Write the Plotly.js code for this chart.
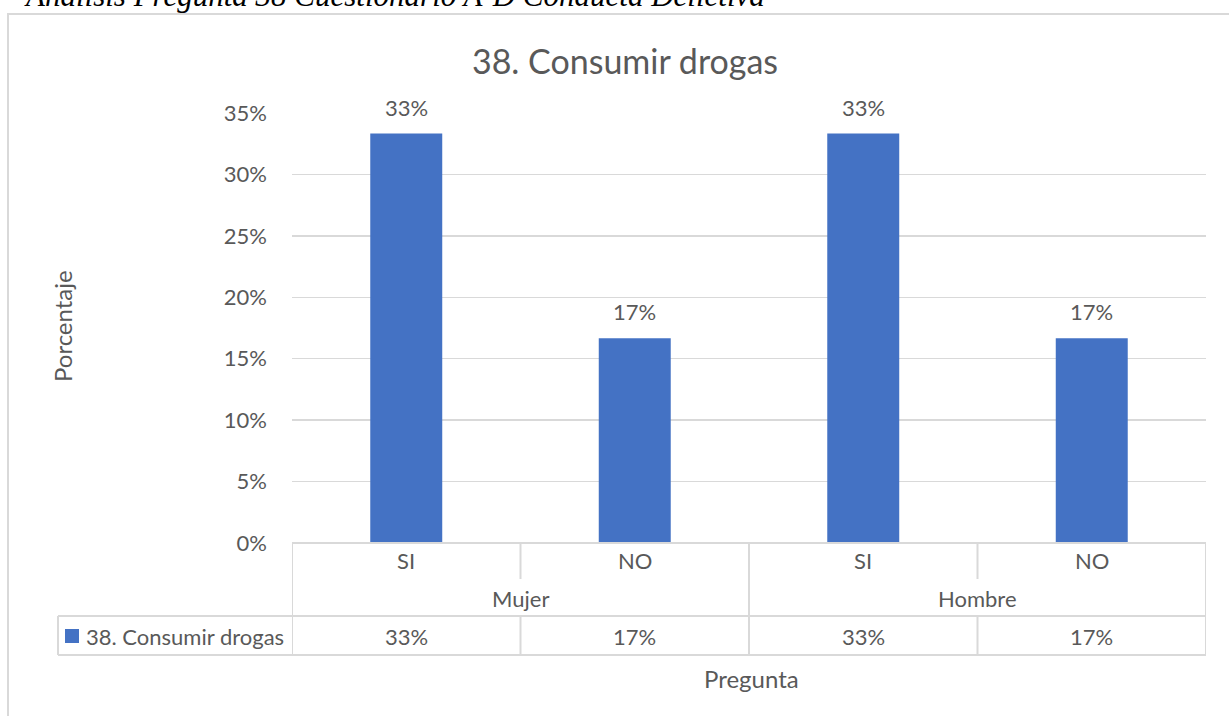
<!DOCTYPE html>
<html><head><meta charset="utf-8">
<script src="https://cdn.plot.ly/plotly-3.0.1.min.js"></script>
<style>html,body{margin:0;padding:0;background:#fff;}#chart{width:1229px;height:716px;}</style>
</head><body><div id="chart"></div>
<script>
const chartTitle = "38. Consumir drogas";
const docTitle = "Análisis Pregunta 38 Cuestionario A-D Conducta Delictiva";
const serieName = "38. Consumir drogas";
const respuestas = ["SI", "NO", "SI", "NO"];
const grupos = ["Mujer", "Hombre"];
const porcentajes = [0.3333, 0.1667, 0.3333, 0.1667];
const yTitle = "Porcentaje";
const xTitle = "Pregunta";

const W = 1229, H = 716;
const L = 292, R = 1206, T = 113, B = 543;
const px = x => (x - L) / (R - L);
const py = y => (B - y) / (B - T);
const grey = "#595959", lineC = "#D9D9D9", blue = "#4472C4";
const FONT = "Lato, 'Open Sans', sans-serif";
const fs = 22;

const xs = respuestas.map((_, i) => i);
const pct = v => Math.round(v * 100) + "%";

const annotations = [];
const shapes = [];

// doc title (cut at top, as in the source page)
annotations.push({xref:"paper", yref:"paper", x:px(22), y:py(15), xanchor:"left", yanchor:"bottom",
  text:docTitle, showarrow:false, font:{family:"'Liberation Serif', 'Times New Roman', serif", size:31, color:"#000", style:"italic"}});
// outer border
shapes.push({type:"rect", xref:"paper", yref:"paper", x0:px(8), x1:px(1270), y0:py(14), y1:py(760),
  line:{color:lineC, width:2}, fillcolor:"rgba(0,0,0,0)", layer:"below"});

// data labels above bars
xs.forEach((x, i) => {
  annotations.push({xref:"x", yref:"y", x:x, y:porcentajes[i], yanchor:"bottom", yshift:11,
    text:pct(porcentajes[i]), showarrow:false, font:{family:FONT, size:fs, color:grey}});
  annotations.push({xref:"x", yref:"paper", x:x, y:py(560), yanchor:"middle",
    text:respuestas[i], showarrow:false, font:{family:FONT, size:fs, color:grey}});
  annotations.push({xref:"x", yref:"paper", x:x, y:py(636), yanchor:"middle",
    text:pct(porcentajes[i]), showarrow:false, font:{family:FONT, size:fs, color:grey}});
});
grupos.forEach((g, j) => {
  annotations.push({xref:"x", yref:"paper", x:2*j + 0.5, y:py(598), yanchor:"middle",
    text:g, showarrow:false, font:{family:FONT, size:fs, color:grey}});
});
// legend cell
annotations.push({xref:"paper", yref:"paper", x:px(84), y:py(636), xanchor:"left", yanchor:"middle",
  text:serieName, showarrow:false, font:{family:FONT, size:fs, color:grey}});
shapes.push({type:"rect", xref:"paper", yref:"paper", x0:px(65), x1:px(79), y0:py(629), y1:py(643),
  line:{width:0}, fillcolor:blue});
// axis titles
annotations.push({xref:"paper", yref:"paper", x:px(62), y:py(326), xanchor:"center", yanchor:"middle", textangle:-90,
  text:yTitle, showarrow:false, font:{family:FONT, size:24, color:grey}});
annotations.push({xref:"paper", yref:"paper", x:px(751), y:py(678), xanchor:"center", yanchor:"middle",
  text:xTitle, showarrow:false, font:{family:FONT, size:24, color:grey}});

// table lines
const hl = (x0, x1, y) => shapes.push({type:"line", xref:"paper", yref:"paper", x0:px(x0), x1:px(x1), y0:py(y), y1:py(y), line:{color:lineC, width:2}});
const vl = (x, y0, y1) => shapes.push({type:"line", xref:"x", yref:"paper", x0:x, x1:x, y0:py(y0), y1:py(y1), line:{color:lineC, width:2}});
hl(L, R, 543);
hl(58, R, 616);
hl(58, R, 655);
shapes.push({type:"line", xref:"paper", yref:"paper", x0:px(58), x1:px(58), y0:py(616), y1:py(655), line:{color:lineC, width:2}});
[-0.5, 1.5, 3.5].forEach(x => vl(x, 543, 655));
[0.5, 2.5].forEach(x => { vl(x, 543, 579); vl(x, 616, 655); });

const data = [{
  type:"bar", x:xs, y:porcentajes, name:serieName, marker:{color:blue}, width:0.315,
  hoverinfo:"skip"
}];

const layout = {
  width:W, height:H, showlegend:false,
  margin:{l:L, r:W - R, t:T, b:H - B, pad:0},
  paper_bgcolor:"#fff", plot_bgcolor:"#fff",
  title:{text:chartTitle, xref:"container", x:625/W, xanchor:"center", y:1 - 62/H, yanchor:"middle", font:{family:FONT, size:34, color:grey}},
  xaxis:{range:[-0.5, 3.5], showticklabels:false, showgrid:false, zeroline:false, showline:false, ticks:"", fixedrange:true},
  yaxis:{range:[0, 0.35], dtick:0.05, tickformat:".0%", showgrid:true, gridcolor:lineC, gridwidth:1.5,
    zeroline:false, showline:false, ticks:"", ticklabelstandoff:24,
    tickfont:{family:FONT, size:fs, color:grey}, fixedrange:true},
  annotations:annotations, shapes:shapes
};
Plotly.newPlot("chart", data, layout, {displayModeBar:false, staticPlot:true});
</script></body></html>
